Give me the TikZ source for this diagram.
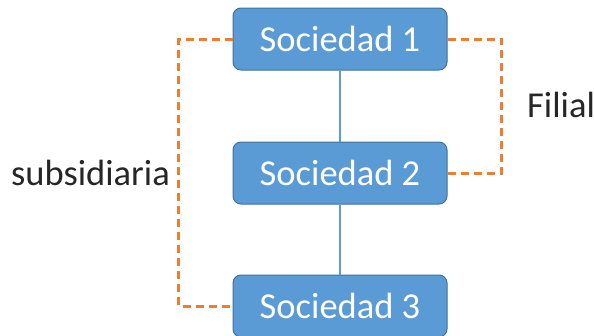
\documentclass[tikz,border=0pt]{standalone}
\usepackage{fontspec}
\setmainfont{Carlito}
\usepackage{tikz}
\usetikzlibrary{positioning}

\definecolor{boxblue}{HTML}{5B9BD5}
\definecolor{boxedge}{HTML}{41719C}
\definecolor{linkorange}{HTML}{ED7D31}

\begin{document}
\begin{tikzpicture}[
        x=1pt, y=1pt,
        soc/.style = {draw=boxedge, line width=1pt, fill=boxblue, rounded corners=8pt,
            minimum width=214pt, minimum height=62pt, inner sep=0pt,
            text=white, font=\fontsize{36.5}{40}\selectfont},
        tie/.style = {boxblue, line width=2.6pt},
        rel/.style = {linkorange, line width=3pt, dash pattern=on 8pt off 5pt},
        lbl/.style = {inner sep=0pt, text=black!85, font=\fontsize{36.5}{40}\selectfont},
        ]
        \useasboundingbox (0,0) rectangle (594,-335);
        \node[soc] (s1) at (340,-39) {Sociedad 1};
        \node[soc] (s2) at (340,-173) {Sociedad 2};
        \node[soc] (s3) at (340,-306) {Sociedad 3};

        \draw[tie] (s1) -- (s2);
        \draw[tie] (s2) -- (s3);

        \draw[rel] (s1.west) -- ++(-54,0) |- (s3.west);
        \draw[rel] (s1.east) -- ++(54,0) |- (s2.east);

        \node[lbl, anchor=base west] (filial) at (527,-117) {Filial};
        \node[lbl, anchor=base east] (subs) at (170,-185) {subsidiaria};
    \end{tikzpicture}
\end{document}
